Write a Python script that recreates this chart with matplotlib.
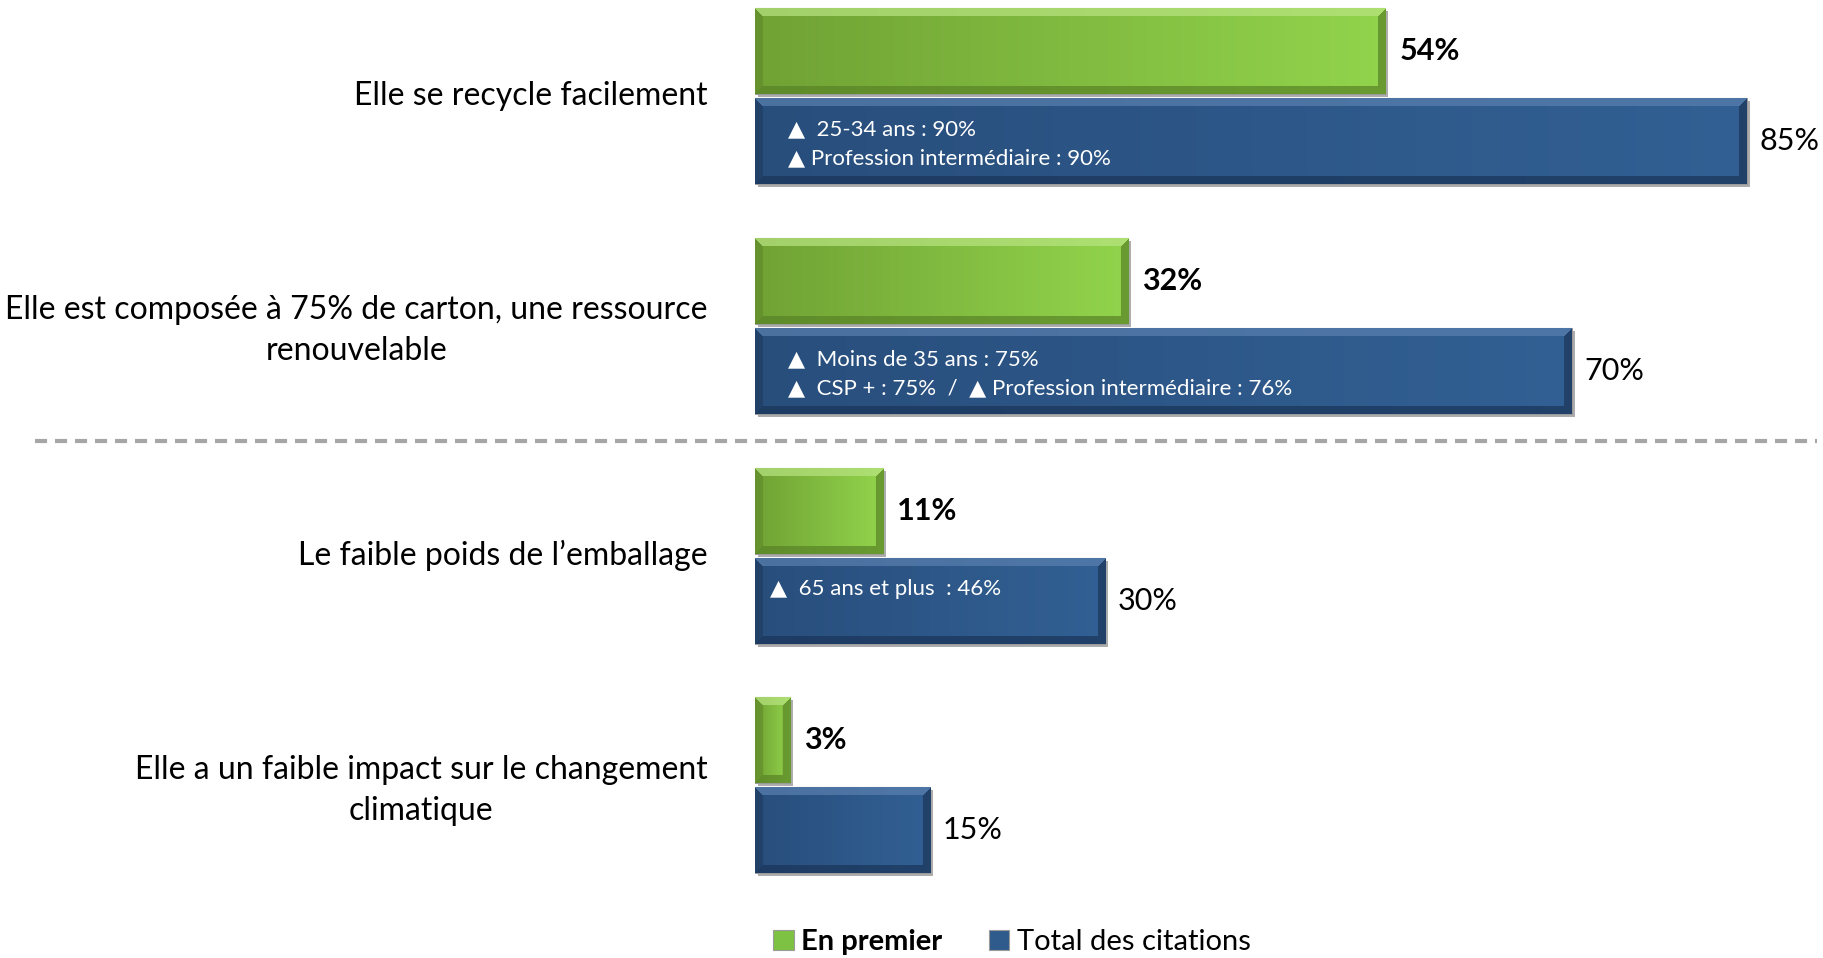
import numpy as np
import matplotlib.pyplot as plt
from matplotlib.patches import Rectangle

plt.rcParams['font.family'] = ['Lato', 'DejaVu Sans']

categories = ['Elle se recycle facilement',
              'Elle est composée à 75% de carton, une ressource\nrenouvelable',
              'Le faible poids de l\u2019emballage',
              'Elle a un faible impact sur le changement\nclimatique']
en_premier = [54, 32, 11, 3]
total_citations = [85, 70, 30, 15]
notes = [['\u25b2  25-34 ans : 90%', '\u25b2 Profession intermédiaire : 90%'],
         ['\u25b2  Moins de 35 ans : 75%', '\u25b2  CSP + : 75%  /  \u25b2 Profession intermédiaire : 76%'],
         ['\u25b2  65 ans et plus  : 46%'],
         []]
note_x = [2.8, 2.8, 1.3, 0]

# pixel geometry of the original slide
W, H = 1824, 958
x0 = 755
px_pct = 11.67
grp = 229.8
first = 96
bar_h = 86 / grp
off = 45 / grp

green = dict(dark=(112, 162, 52), light=(146, 212, 76), top=(185, 228, 130), bottom=(88, 130, 38), side=(98, 140, 42))
blue = dict(dark=(40, 78, 124), light=(50, 96, 148), top=(90, 128, 175), bottom=(26, 52, 88), side=(30, 60, 98))


def bevel_img(w_px, h_px, c, b=8):
    h = int(round(h_px))
    w = max(int(round(w_px)), 2)
    dark = np.array(c['dark'], float)
    light = np.array(c['light'], float)
    t = np.linspace(0, 1, w)
    img = dark[None, None, :] + (light - dark)[None, None, :] * t[None, :, None]
    img = np.repeat(img, h, axis=0)
    rr, cc = np.mgrid[0:h, 0:w]
    d = np.stack([rr, h - 1 - rr, cc, w - 1 - cc])
    m = d.min(axis=0)
    which = d.argmin(axis=0)
    edge_cols = [c['top'], c['bottom'], c['side'], c['bottom']]
    for k, ec in enumerate(edge_cols):
        mask = (m < b) & (which == k)
        img[mask] = img[mask] * 0.3 + np.array(ec, float) * 0.7
    return np.clip(img / 255.0, 0, 1)


def fancy(ax, bars, c):
    for p in bars:
        x, y, w, h = p.get_x(), p.get_y(), p.get_width(), p.get_height()
        ax.add_patch(Rectangle((x + 3 / px_pct, y + 3 / grp), w, h, color='#8a8a8a', alpha=0.7, zorder=1, lw=0))
        img = bevel_img(w * px_pct, h * grp, c)
        ax.imshow(img, extent=(x, x + w, y + h, y), aspect='auto', zorder=3, interpolation='bilinear')


fig = plt.figure(figsize=(W / 100, H / 100), dpi=100)
ax = fig.add_axes([x0 / W, 0, 1 - x0 / W, 1])

y = np.arange(len(categories))
bg = ax.barh(y - off, en_premier, height=bar_h, color='#7dc242', edgecolor='#9a9a9a', lw=0.8, label='En premier', zorder=2)
bb = ax.barh(y + off, total_citations, height=bar_h, color='#2e5a8c', edgecolor='#9a9a9a', lw=0.8, label='Total des citations', zorder=2)
fancy(ax, bg, green)
fancy(ax, bb, blue)

for i in range(len(categories)):
    ax.text(en_premier[i] + 1.2, y[i] - off, f'{en_premier[i]}%', va='center', ha='left', fontsize=22, fontweight='bold', zorder=5)
    ax.text(total_citations[i] + 1.1, y[i] + off, f'{total_citations[i]}%', va='center', ha='left', fontsize=22, zorder=5)
    for j, n in enumerate(notes[i]):
        ax.text(note_x[i], y[i] + off - 0.052 + j * 0.126, n, va='center', ha='left', fontsize=16, color='white', zorder=5)

# separator
ax.plot([(35 - x0) / px_pct, (1817 - x0) / px_pct], [1.5, 1.5], ls=(0, (2.9, 1.9)), lw=3, color='#a6a6a6', clip_on=False)

ax.set_yticks(y - 0.015)
ax.set_yticklabels(categories, fontsize=23, linespacing=1.45)
for lbl in ax.get_yticklabels():
    lbl.set_multialignment('center')
ax.tick_params(axis='y', length=0, pad=34)
ax.set_xticks([])
for s in ax.spines.values():
    s.set_visible(False)

ax.set_xlim(0, (W - x0) / px_pct)
ax.set_ylim((H - first) / grp, -first / grp)

leg = ax.legend(loc='center', bbox_to_anchor=((777 + 1247) / 2 / W, 1 - 942 / H), bbox_transform=fig.transFigure,
                frameon=False, ncol=2, handlelength=0.7, handleheight=0.7, handletextpad=0.25, columnspacing=1.6, fontsize=21)
leg.get_texts()[0].set_fontweight('bold')

fig.savefig('out.png', dpi=100)
